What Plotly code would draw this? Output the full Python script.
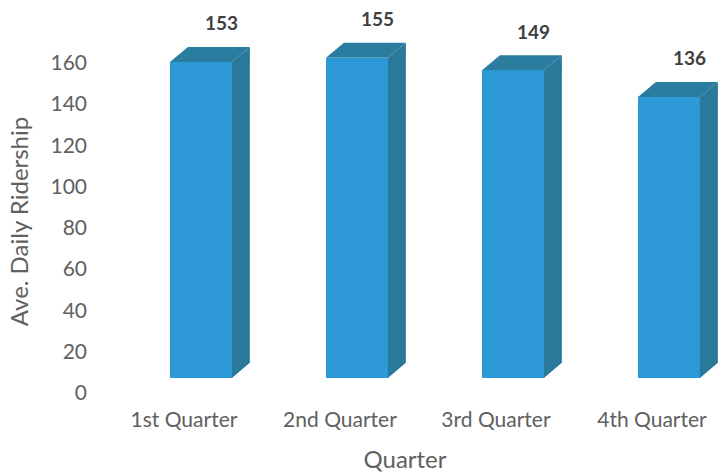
import plotly.graph_objects as go

# Average daily ridership per quarter
quarters = ["1st Quarter", "2nd Quarter", "3rd Quarter", "4th Quarter"]
ridership = [153, 155, 149, 136]
y_ticks = [0, 20, 40, 60, 80, 100, 120, 140, 160]

# Styling for the pseudo-3D column look
FRONT = "#2D9AD7"
SIDE = "#29799A"
TOP = "#2A7D9E"
LABEL_GRAY = "#606060"
FONT = "Lato"

BAR_SHIFT = 0.109      # front face sits slightly right of the category tick
BAR_WIDTH = 0.397      # front face width (category units)
DEPTH_X = 0.115        # receding depth, horizontal component
DEPTH_Y = 7.3          # receding depth, vertical component (value units)
FLOOR = 7.3            # floor lift of the front face

fig = go.Figure()

x_front = [i + BAR_SHIFT for i in range(len(quarters))]

# Front faces
fig.add_trace(go.Bar(
    x=x_front, y=ridership, base=FLOOR, width=BAR_WIDTH,
    marker=dict(color=FRONT, line=dict(width=0)),
    hoverinfo="skip", showlegend=False,
))

# Side and top faces, built from each bar's value
for xc, v in zip(x_front, ridership):
    xl = xc - BAR_WIDTH / 2
    xr = xc + BAR_WIDTH / 2
    top = FLOOR + v
    fig.add_trace(go.Scatter(
        x=[xr, xr + DEPTH_X, xr + DEPTH_X, xr, xr],
        y=[FLOOR, FLOOR + DEPTH_Y, top + DEPTH_Y, top, FLOOR],
        fill="toself", fillcolor=SIDE, mode="lines",
        line=dict(width=0, color=SIDE), hoverinfo="skip", showlegend=False,
        cliponaxis=False,
    ))
    fig.add_trace(go.Scatter(
        x=[xl, xl + DEPTH_X, xr + DEPTH_X, xr, xl],
        y=[top, top + DEPTH_Y, top + DEPTH_Y, top, top],
        fill="toself", fillcolor=TOP, mode="lines",
        line=dict(width=0, color=TOP), hoverinfo="skip", showlegend=False,
        cliponaxis=False,
    ))
    fig.add_annotation(
        x=xc + 0.13, y=top + DEPTH_Y, yshift=24,
        text=f"<b>{v}</b>", showarrow=False,
        font=dict(family=FONT, size=19, color="#404040"),
    )

fig.update_layout(
    width=722, height=473,
    margin=dict(l=88, r=0, t=38, b=68),
    paper_bgcolor="white", plot_bgcolor="white",
    font=dict(family=FONT, color=LABEL_GRAY),
    xaxis=dict(
        range=[-0.615, 3.449],
        tickmode="array", tickvals=list(range(len(quarters))), ticktext=quarters,
        showgrid=False, zeroline=False, showline=False, ticks="",
        tickfont=dict(family=FONT, size=21, color=LABEL_GRAY),
        title=dict(text="Quarter", font=dict(family=FONT, size=24, color=LABEL_GRAY), standoff=21),
    ),
    yaxis=dict(
        range=[-5.8, 171.9],
        tickmode="array", tickvals=y_ticks,
        showgrid=False, zeroline=False, showline=False, ticks="",
        tickfont=dict(family=FONT, size=21, color=LABEL_GRAY),
        title=dict(text="Ave. Daily Ridership", font=dict(family=FONT, size=24, color=LABEL_GRAY), standoff=15),
    ),
    bargap=0,
)

fig.write_html("out.html")
